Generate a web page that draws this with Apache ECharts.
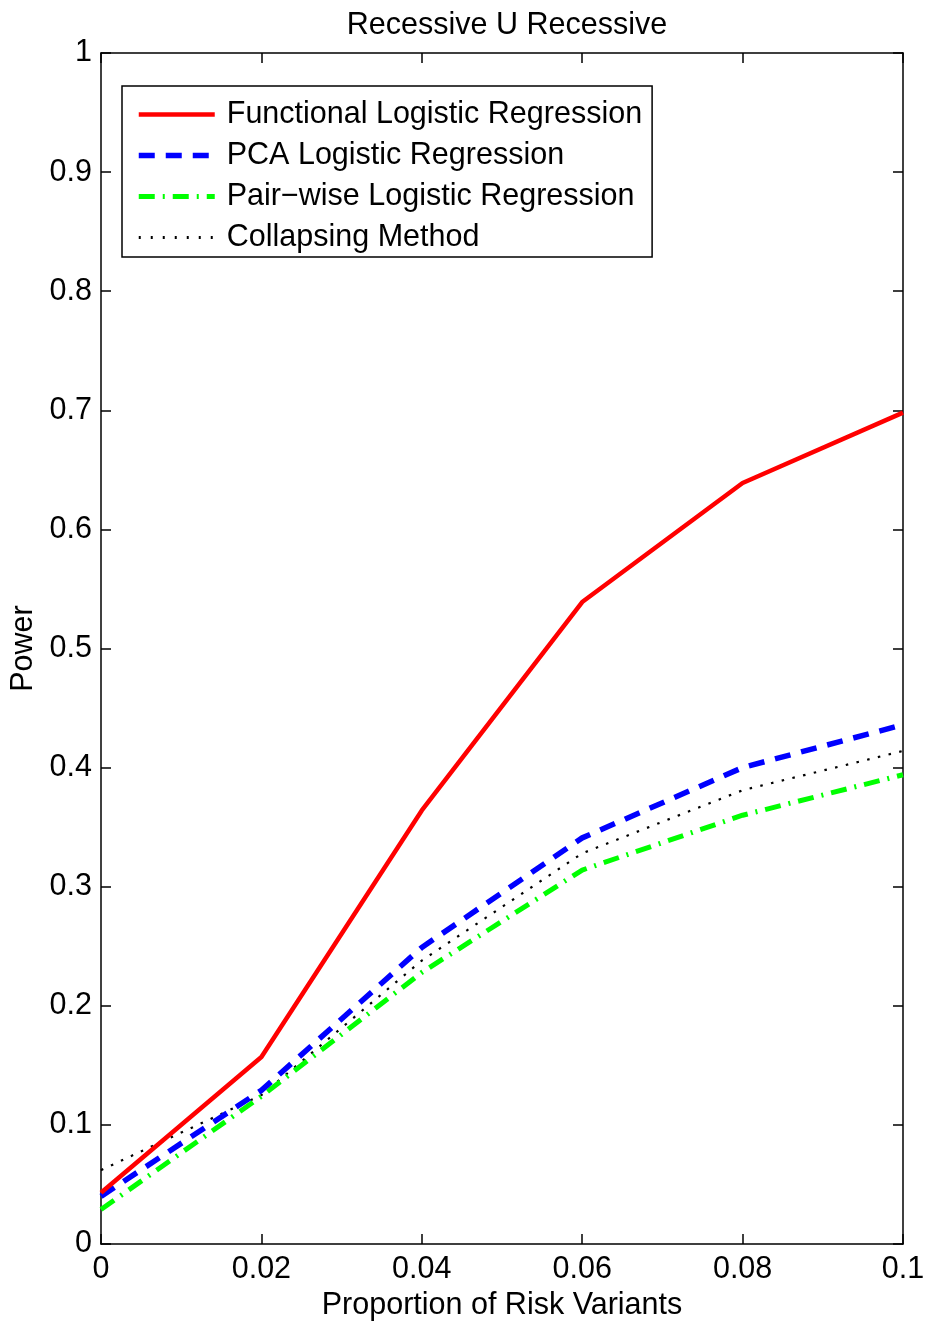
<!DOCTYPE html>
<html><head><meta charset="utf-8">
<script src="https://cdn.jsdelivr.net/npm/echarts@6/dist/echarts.min.js"></script>
<style>html,body{margin:0;padding:0;background:#fff}#c{width:925px;height:1321px}</style>
</head><body><div id="c"></div>
<script>
const xValues = [0, 0.02, 0.04, 0.06, 0.08, 0.1];
const functional = [0.043, 0.157, 0.364, 0.539, 0.639, 0.698];
const pca = [0.040, 0.129, 0.249, 0.341, 0.400, 0.436];
const pairwise = [0.029, 0.124, 0.228, 0.314, 0.360, 0.394];
const collapsing = [0.062, 0.125, 0.238, 0.328, 0.381, 0.414];
const seriesNames = ['Functional Logistic Regression','PCA Logistic Regression','Pair\u2212wise Logistic Regression','Collapsing Method'];
const xTicks = ['0','0.02','0.04','0.06','0.08','0.1'];

const FONT = '"Liberation Sans", Arial, sans-serif';
const FS = 30.5;
const chart = echarts.init(document.getElementById('c'), null, {renderer:'canvas'});
const pts = v => xValues.map((x,i)=>[x,v[i]]);
const axisCommon = {
  axisLine:{show:true,onZero:false,lineStyle:{color:'#000',width:1.5}},
  axisTick:{show:true,inside:true,length:10,lineStyle:{color:'#000',width:1.5}},
  splitLine:{show:false}
};
const styles = [
  {color:'#ff0000',width:4.5,type:'solid'},
  {color:'#0000ff',width:5.5,type:[16,11]},
  {color:'#00ff00',width:5,type:[16,8,2,8]},
  {color:'#000000',width:2.2,type:[2.5,8.5]}
];
chart.setOption({
  animation:false,
  backgroundColor:'#fff',
  title:{text:'Recessive U Recessive',left:502,top:5,textAlign:'center',
    textStyle:{fontFamily:FONT,fontSize:FS,fontWeight:'normal',color:'#000'}},
  grid:{left:101,right:22,top:53,bottom:77,containLabel:false,outerBoundsMode:'none'},
  legend:{
    orient:'vertical',left:122,top:86,
    backgroundColor:'#fff',borderColor:'#000',borderWidth:1.5,borderRadius:0,
    padding:[13,10,4,14],
    itemWidth:76,itemHeight:14,itemGap:10,
    itemStyle:{opacity:0},
    textStyle:{fontFamily:FONT,fontSize:FS,lineHeight:30,color:'#000',padding:[0,0,0,7]},
    data:seriesNames.map((n,i)=>({name:n,lineStyle:Object.assign({},styles[i], i===3?{width:3,type:[2,10]}:{}),itemStyle:{opacity:0}}))
  },
  xAxis:[
    Object.assign({type:'value',position:'bottom',min:0,max:0.1,interval:0.02,
      name:'Proportion of Risk Variants',nameLocation:'middle',nameGap:46,
      nameTextStyle:{fontFamily:FONT,fontSize:FS,color:'#000'},
      axisLabel:{fontFamily:FONT,fontSize:FS,color:'#000',margin:10,
        formatter:v=>xTicks[Math.round(v/0.02)]}},axisCommon),
    Object.assign({type:'value',position:'top',min:0,max:0.1,interval:0.02,
      axisLabel:{show:false}},axisCommon)
  ],
  yAxis:[
    Object.assign({type:'value',position:'left',min:0,max:1,interval:0.1,
      name:'Power',nameLocation:'middle',nameGap:62,nameRotate:90,
      nameTextStyle:{fontFamily:FONT,fontSize:FS,color:'#000'},
      axisLabel:{fontFamily:FONT,fontSize:FS,color:'#000',margin:9,
        formatter:v=>(v===0?'0':(v===1?'1':v.toFixed(1)))}},axisCommon),
    Object.assign({type:'value',position:'right',min:0,max:1,interval:0.1,
      axisLabel:{show:false}},axisCommon)
  ],
  series:[
    {name:seriesNames[3],type:'line',data:pts(collapsing),symbol:'none',z:2,
      lineStyle:styles[3],itemStyle:{color:styles[3].color}},
    {name:seriesNames[2],type:'line',data:pts(pairwise),symbol:'none',z:3,
      lineStyle:styles[2],itemStyle:{color:styles[2].color}},
    {name:seriesNames[1],type:'line',data:pts(pca),symbol:'none',z:4,
      lineStyle:styles[1],itemStyle:{color:styles[1].color}},
    {name:seriesNames[0],type:'line',data:pts(functional),symbol:'none',z:5,
      lineStyle:styles[0],itemStyle:{color:styles[0].color}}
  ]
});
</script></body></html>
